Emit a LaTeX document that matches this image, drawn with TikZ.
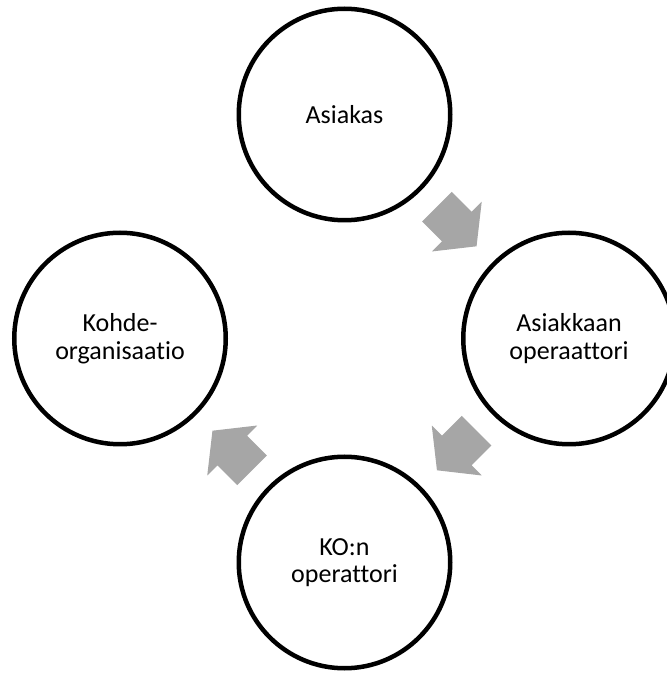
\documentclass[tikz,border=0pt]{standalone}
\usepackage{fontspec}
\setmainfont{Carlito}[Ligatures={NoCommon}]
\usetikzlibrary{calc}
\definecolor{arrowgray}{RGB}{166,166,166}
\tikzset{
  stage/.style={circle, draw=black, line width=4.5pt, fill=white,
    minimum size=211.5pt, inner sep=0pt, align=center,
    font=\fontsize{26}{27.5}\selectfont},
  flowarrow/.pic={
    \fill[arrowgray] (-28,-21) -- (0,-21) -- (0,-35.35) -- (28,0)
      -- (0,35.35) -- (0,21) -- (-28,21) -- cycle;
  }
}
\begin{document}
\begin{tikzpicture}[x=1pt, y=1pt]
  \useasboundingbox (0,0) rectangle (667,673);
  \clip (0,0) rectangle (667,673);

  % four stages of the cycle
  \node[stage] (asiakas)  at (344.5,558.5) {Asiakas};
  \node[stage] (aoper)    at (569,334.5)   {Asiakkaan\\operaattori};
  \node[stage] (kooper)   at (344.5,110.5) {KO:n\\operattori};
  \node[stage] (kohde)    at (120,334.5)   {Kohde-\\organisaatio};

  % block arrows between consecutive stages
  \pic[rotate=-45]  at ($(asiakas)!0.5!(aoper)$) {flowarrow};
  \pic[rotate=-135] at ($(aoper)!0.5!(kooper)$)  {flowarrow};
  \pic[rotate=135]  at ($(kooper)!0.5!(kohde)$)  {flowarrow};
\end{tikzpicture}
\end{document}
